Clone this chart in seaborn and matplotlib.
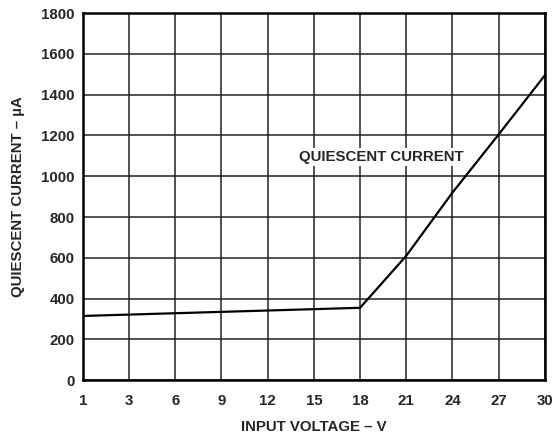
import numpy as np
import pandas as pd
import matplotlib
matplotlib.use('Agg')
import matplotlib.pyplot as plt
import seaborn as sns

# tick labels on x (evenly spaced, not linear in volts)
x_ticks = [1, 3, 6, 9, 12, 15, 18, 21, 24, 27, 30]
y_ticks = [0, 200, 400, 600, 800, 1000, 1200, 1400, 1600, 1800]

# curve
voltage = [1, 18, 21, 24, 27, 30]
current = [315, 355, 610, 920, 1205, 1495]

sns.set_theme(style='white')
plt.rcParams['font.family'] = ['Liberation Sans', 'DejaVu Sans']
plt.rcParams['font.weight'] = 'bold'

df = pd.DataFrame({
    'pos': [x_ticks.index(v) for v in voltage],
    'current': current,
})

fig = plt.figure(figsize=(5.56, 4.36), dpi=100)
ax = fig.add_axes([0.149, 0.128, 0.831, 0.842])

sns.lineplot(data=df, x='pos', y='current', ax=ax, color='black', linewidth=1.6)

ax.set_xlim(0, len(x_ticks) - 1)
ax.set_ylim(0, 1800)
ax.set_xticks(range(len(x_ticks)))
ax.set_xticklabels([str(v) for v in x_ticks])
ax.set_yticks(y_ticks)
ax.set_yticklabels([str(v) for v in y_ticks])
ax.tick_params(axis='x', labelsize=10.8, length=0, pad=10)
ax.tick_params(axis='y', labelsize=10.8, length=0, pad=6)
for lab in ax.get_xticklabels() + ax.get_yticklabels():
    lab.set_fontweight('bold')

ax.grid(True, color='#222222', linewidth=1.1)
for s in ax.spines.values():
    s.set_color('black')
    s.set_linewidth(1.8)

ax.set_xlabel('INPUT VOLTAGE – V', fontsize=10.8, fontweight='bold')
ax.set_ylabel('QUIESCENT CURRENT – µA', fontsize=10.8, fontweight='bold')
ax.xaxis.set_label_coords(0.5, -0.109)
ax.yaxis.set_label_coords(-0.126, 0.5)

ax.text(6.45, 1094, 'QUIESCENT CURRENT', fontsize=10.8, fontweight='bold',
        ha='center', va='center',
        bbox=dict(facecolor='white', edgecolor='none', pad=1.5))

fig.savefig('out.png', dpi=100)
